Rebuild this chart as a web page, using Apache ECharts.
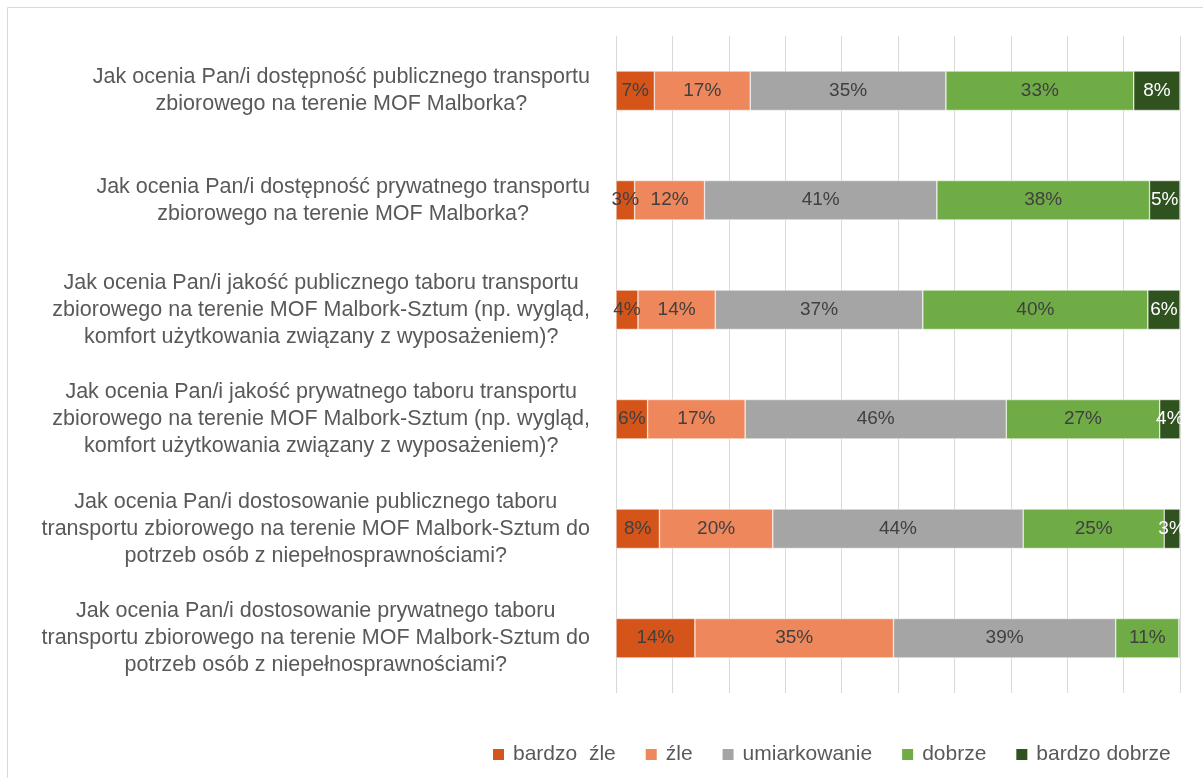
<!DOCTYPE html>
<html>
<head>
<meta charset="utf-8">
<title>Ocena transportu zbiorowego</title>
<script src="https://cdn.jsdelivr.net/npm/echarts@6/dist/echarts.min.js"></script>
<style>
  html, body { margin: 0; padding: 0; background: #fff; }
  #chart { width: 1203px; height: 778px; }
</style>
</head>
<body>
<div id="chart"></div>
<script>
// pytania (od góry)
const categories = [
  "Jak ocenia Pan/i dostępność publicznego transportu\nzbiorowego na terenie MOF Malborka?",
  "Jak ocenia Pan/i dostępność prywatnego transportu\nzbiorowego na terenie MOF Malborka?",
  "Jak ocenia Pan/i jakość publicznego taboru transportu\nzbiorowego na terenie MOF Malbork-Sztum (np. wygląd,\nkomfort użytkowania związany z wyposażeniem)?",
  "Jak ocenia Pan/i jakość prywatnego taboru transportu\nzbiorowego na terenie MOF Malbork-Sztum (np. wygląd,\nkomfort użytkowania związany z wyposażeniem)?",
  "Jak ocenia Pan/i dostosowanie publicznego taboru\ntransportu zbiorowego na terenie MOF Malbork-Sztum do\npotrzeb osób z niepełnosprawnościami?",
  "Jak ocenia Pan/i dostosowanie prywatnego taboru\ntransportu zbiorowego na terenie MOF Malbork-Sztum do\npotrzeb osób z niepełnosprawnościami?"
];

// odpowiedzi w %
const bardzoZle = [6.8, 3.3, 3.9, 5.6, 7.7, 14.0];
const zle = [17.0, 12.4, 13.7, 17.3, 20.1, 35.2];
const umiarkowanie = [34.7, 41.2, 36.8, 46.3, 44.4, 39.4];
const dobrze = [33.3, 37.7, 39.9, 27.2, 25.0, 11.2];
const bardzoDobrze = [8.2, 5.4, 5.7, 3.6, 2.8, 0.2];

const seriesNames = ["bardzo  źle", "źle", "umiarkowanie", "dobrze", "bardzo dobrze"];
const seriesData = [bardzoZle, zle, umiarkowanie, dobrze, bardzoDobrze];
const colors = ["#D5541A", "#EE875B", "#A5A5A5", "#6FAC46", "#30521F"];
const labelColors = ["#404040", "#404040", "#404040", "#404040", "#ffffff"];

const FONT = "'Liberation Sans', Arial, sans-serif";

let chart = echarts.init(document.getElementById("chart"));

let series = seriesData.map((d, i) => {
  return {
    name: seriesNames[i],
    type: "bar",
    stack: "total",
    barWidth: "36%",
    data: d,
    itemStyle: { color: colors[i], borderColor: "#ffffff", borderWidth: 0.5 },
    label: {
      show: true,
      position: "inside",
      fontFamily: FONT,
      fontSize: 19,
      color: labelColors[i],
      formatter: (p) => (p.value < 1 ? "" : Math.round(p.value) + "%"),
    },
    emphasis: { disabled: true },
  };
});

let option = {
  animation: false,
  color: colors,
  graphic: [
    {
      type: "rect",
      shape: { x: 7.5, y: 7.5, width: 1300, height: 800 },
      style: { fill: "none", stroke: "#D9D9D9", lineWidth: 1 },
      silent: true,
    },
  ],
  grid: { left: 616, right: 23, top: 36, bottom: 85 },
  legend: {
    data: seriesNames,
    left: 486,
    top: 739,
    itemWidth: 13,
    itemHeight: 13,
    itemGap: 28,
    icon: "rect",
    textStyle: { fontFamily: FONT, fontSize: 21, color: "#595959", padding: [0, 0, 0, 3] },
  },
  xAxis: {
    type: "value",
    min: 0,
    max: 100,
    interval: 10,
    axisLabel: { show: false },
    axisLine: { show: false },
    axisTick: { show: false },
    splitLine: { show: true, lineStyle: { color: "#D9D9D9", width: 1 } },
  },
  yAxis: {
    type: "category",
    inverse: true,
    data: categories,
    axisLine: { show: false },
    axisTick: { show: false },
    axisLabel: {
      margin: 26,
      formatter: (v) => v.split("\n").map((l) => "{c|" + l + "}").join("\n"),
      rich: {
        c: {
          align: "center",
          fontFamily: FONT,
          fontSize: 21.5,
          lineHeight: 27,
          color: "#595959",
        },
      },
    },
  },
  series: series,
};

chart.setOption(option);
</script>
</body>
</html>
